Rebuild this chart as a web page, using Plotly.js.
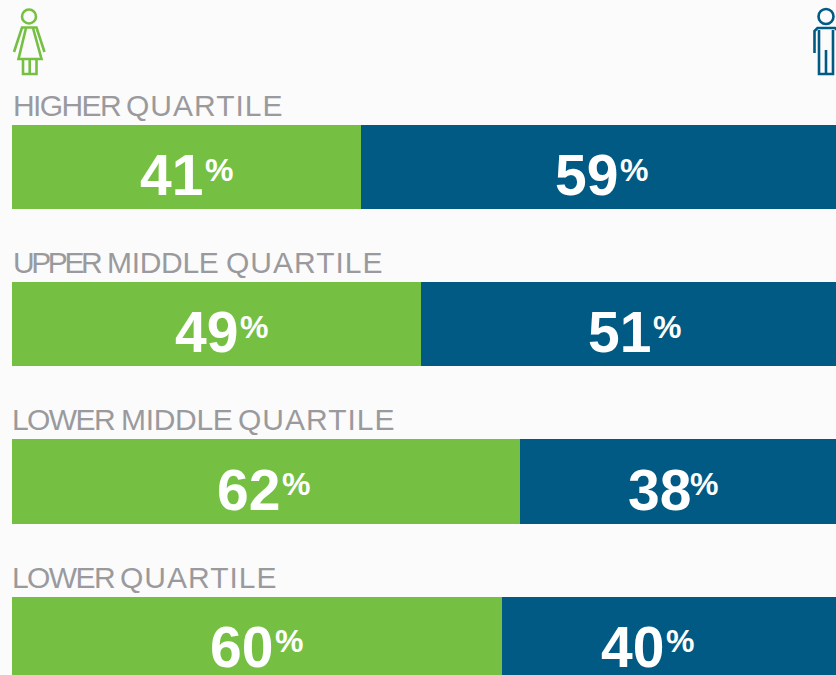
<!DOCTYPE html>
<html><head><meta charset="utf-8">
<script src="https://cdn.plot.ly/plotly-3.0.1.min.js"></script>
<style>html,body{margin:0;padding:0;background:#fbfbfb;overflow:hidden}#c{width:836px;height:675px}</style>
</head><body><div id="c"></div>
<script>
const categories = ["HIGHER QUARTILE","UPPER MIDDLE QUARTILE","LOWER MIDDLE QUARTILE","LOWER QUARTILE"];
const womenLabels = [41,49,62,60];
const menLabels = [59,51,38,40];
const womenBars = [42.35,49.6,61.65,59.5];
const menBars = [57.65,50.4,38.35,40.5];
const womenNudge = [1,6,-2,0];
const menNudge = [4,7,-3,-21];
const menPctGap = [32,32,29,32];
const barWidths = [0.534,0.534,0.5404,0.534];
const wordShift = [[-1.5,111.8],[-1,92.8,211.8],[-2.3,106.8,223.8],[-2.3,105.8]];
const wordLift = [62,62,62,61];
const wordTracking = {HIGHER:-1.6,UPPER:-3.4,MIDDLE:-0.3,LOWER:-1.6,QUARTILE:1};

const GREEN="#75c043", BLUE="#005a84", GREY="#9a9a9e", W=836, H=675;
const FONT="Liberation Sans, Arial, sans-serif";
const PPU=8.24;
const annotations=[];
function addLabel(cat,center,shift,val,gap){
  annotations.push({x:center,y:cat,xref:'x',yref:'y',text:String(val),showarrow:false,xanchor:'center',yanchor:'middle',
    xshift:shift-16,yshift:-8,font:{family:FONT,size:57,color:'#fff',weight:700}});
  annotations.push({x:center,y:cat,xref:'x',yref:'y',text:'%',showarrow:false,xanchor:'center',yanchor:'middle',
    xshift:shift+gap,yshift:-2.5,font:{family:FONT,size:32,color:'#fff',weight:700}});
}
categories.forEach((c,i)=>{
  c.split(' ').forEach((w,j)=>{
    annotations.push({x:0,y:c,xref:'x',yref:'y',text:'<span style="letter-spacing:'+wordTracking[w]+'px">'+w+'</span>',
      showarrow:false,xanchor:'left',yanchor:'middle',xshift:wordShift[i][j],yshift:wordLift[i],
      font:{family:FONT,size:30,color:GREY}});
  });
  addLabel(c,womenBars[i]/2,womenNudge[i],womenLabels[i],32);
  addLabel(c,womenBars[i]+menBars[i]/2,menNudge[i],menLabels[i],menPctGap[i]);
});
const px=x=>(x/W), py=y=>(1-y/H);
const pth=pts=>pts.map((p,i)=>(i?'L':'M')+px(p[0]).toFixed(5)+','+py(p[1]).toFixed(5)).join(' ');
const icon=(d,color)=>({type:'path',xref:'paper',yref:'paper',path:d,line:{color,width:2.6},layer:'above'});
const ring=(cx,cy,r,color)=>({type:'circle',xref:'paper',yref:'paper',x0:px(cx-r),x1:px(cx+r),y0:py(cy+r),y1:py(cy-r),line:{color,width:2.6}});
const shapes=[
  ring(29,16.5,7,GREEN),
  icon(pth([[14,52],[22,27.5],[36.5,27.5],[44.5,52]]),GREEN),
  icon(pth([[26,28],[18.5,59],[41.5,59],[33,28]]),GREEN),
  icon(pth([[23,59],[23,74],[36.5,74],[36.5,59]]),GREEN),
  icon(pth([[29.7,59],[29.7,74]]),GREEN),
  ring(826,16.5,7.5,BLUE),
  icon(pth([[814.5,53],[814.5,31],[817.5,28],[835,28],[838,31],[838,53]]),BLUE),
  icon(pth([[819,30],[819,74],[833,74],[833,30]]),BLUE),
  icon(pth([[826,50],[826,74]]),BLUE)
];
Plotly.newPlot('c',[
  {type:'bar',orientation:'h',name:'Women',y:categories,x:womenBars,marker:{color:GREEN},width:barWidths,hoverinfo:'skip'},
  {type:'bar',orientation:'h',name:'Men',y:categories,x:menBars,marker:{color:BLUE},width:barWidths,hoverinfo:'skip'}
],{
  width:W,height:H,margin:{l:0,r:0,t:0,b:0,pad:0},barmode:'stack',showlegend:false,
  paper_bgcolor:'#fbfbfb',plot_bgcolor:'#fbfbfb',hovermode:false,
  xaxis:{range:[-12/PPU,100],visible:false,fixedrange:true},
  yaxis:{type:'category',categoryorder:'array',categoryarray:categories,range:[3.229,-1.0617],visible:false,fixedrange:true},
  annotations,shapes
},{staticPlot:true,displayModeBar:false});
</script></body></html>
